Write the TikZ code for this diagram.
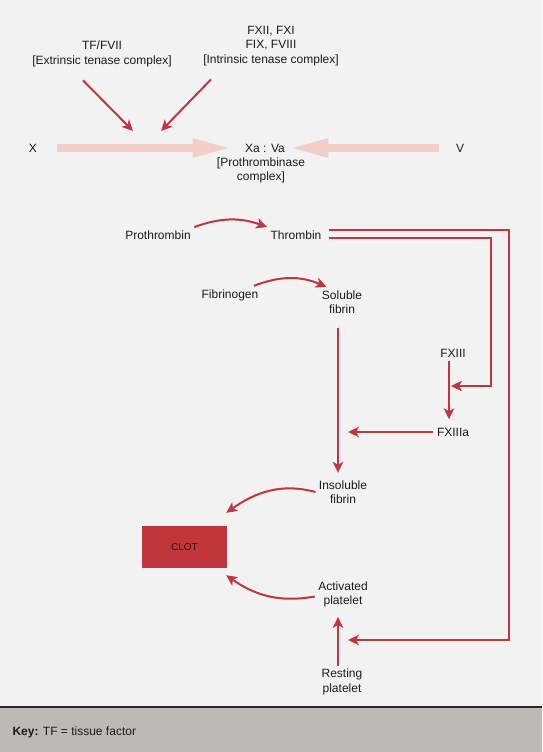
\documentclass[tikz,border=0pt]{standalone}
\usepackage{fontspec}
\setmainfont{Liberation Sans}
\usetikzlibrary{positioning}
\usetikzlibrary{arrows.meta}
\definecolor{bgcol}{HTML}{F2F2F2}
\definecolor{keycol}{HTML}{BDB9B4}
\definecolor{clotred}{HTML}{C1353C}
\definecolor{palepink}{HTML}{F1CFC6}
\definecolor{txt}{HTML}{1E1A1B}
\tikzset{>={Stealth[length=11pt,width=10.5pt,inset=3pt]}}
\tikzset{lab/.style={align=center,text=txt,font=\fontsize{12}{14.5}\selectfont}}
\tikzset{rd/.style={draw=clotred,line width=2pt,->}}
\tikzset{pale/.style={draw=palepink,line width=8pt,-{Triangle[length=40pt,width=17pt]}}}

\begin{document}
\begin{tikzpicture}[x=1pt,y=1pt,on grid]
        \useasboundingbox (0,0) rectangle (542,-752);
        \fill[bgcol] (0,0) rectangle (542,-707);
        \fill[keycol] (0,-707) rectangle (542,-752);
        \draw[line width=2.5pt,black!85] (0,-707) -- (542,-707);

        \node[lab] (tf) at (102,-54) {TF/FVII\\{[}Extrinsic tenase complex{]}};
        \node[lab] (itc) at (271,-46) {FXII, FXI\\FIX, FVIII\\{[}Intrinsic tenase complex{]}};

        \node[lab] (X) at (33,-148) {X};
        \node[lab] (xa) at (265,-148) {Xa : Va};
        \node[lab, below=22.5pt of xa, xshift=-4pt] (pxc) {{[}Prothrombinase\\complex{]}};
        \node[lab] (V) at (460,-148) {V};

        \node[lab] (pro) at (158,-235) {Prothrombin};
        \node[lab, right=138pt of pro] (thr) {Thrombin};
        \node[lab] (fbg) at (230,-295) {Fibrinogen};
        \node[lab, right=112pt of fbg, yshift=-7pt] (sol) {Soluble\\fibrin};

        \node[lab] (f13) at (453,-353) {FXIII};
        \node[lab, below=79pt of f13] (f13a) {FXIIIa};
        \node[lab, below=190pt of sol, xshift=1pt] (ins) {Insoluble\\fibrin};

        \node[fill=clotred, minimum width=85pt, minimum height=42pt, text=txt,
              font=\fontsize{10}{12}\selectfont] (clot) at (184.5,-547) {CLOT};
        \node[lab, below=102.5pt of ins] (act) {Activated\\platelet};
        \node[lab, below=87.5pt of act, xshift=-1pt] (rest) {Resting\\platelet};

        \node[lab, anchor=west] (key) at (9,-732) {\textbf{Key:} TF = tissue factor};

        \coordinate (hit1) at (133,-131);
        \coordinate (hit2) at (161,-131);
        \coordinate (f13in) at (451,-386);
        \coordinate (fibin) at (348,-432);
        \coordinate (platin) at (348,-640);

        % tenase complexes
        \draw[rd] ([shift={(-19pt,-10pt)}]tf.south) -- (hit1);
        \draw[rd] ([shift={(-60pt,-10pt)}]itc.south) -- (hit2);

        \draw[pale, shorten <=16pt, shorten >=9pt] (X.east) -- (xa.west);
        \draw[pale, shorten <=13pt] (V.west) -- (xa.east);

        \draw[rd] (pro.north east) to[bend left=20] (thr.north west);
        \draw[rd] ([xshift=-8pt]fbg.north east) to[bend left=22] ([xshift=8pt]sol.north west);

        % thrombin feeds
        \draw[rd] ([shift={(4pt,5pt)}]thr.east) -- ++(180,0) |- (platin);
        \draw[rd] ([shift={(4pt,-3pt)}]thr.east) -- ++(162,0) |- (f13in);

        \draw[rd] ([xshift=-4pt]f13.south) -- ([xshift=-4pt,yshift=5pt]f13a.north);
        \draw[rd] (f13a.west) -- (fibin);
        \draw[rd, shorten <=11pt, shorten >=4pt] ([xshift=-4pt]sol.south) -- ([xshift=-5pt]ins.north);

        \draw[rd] (ins.west) to[out=165,in=35] ([shift={(-1pt,13pt)}]clot.north east);
        \draw[rd] ([yshift=-2pt]act.west) to[out=190,in=-35] ([shift={(-1pt,-7pt)}]clot.south east);
        \draw[rd, shorten >=6pt] ([xshift=-4pt]rest.north) -- ([xshift=-5pt]act.south);
    \end{tikzpicture}
\end{document}
